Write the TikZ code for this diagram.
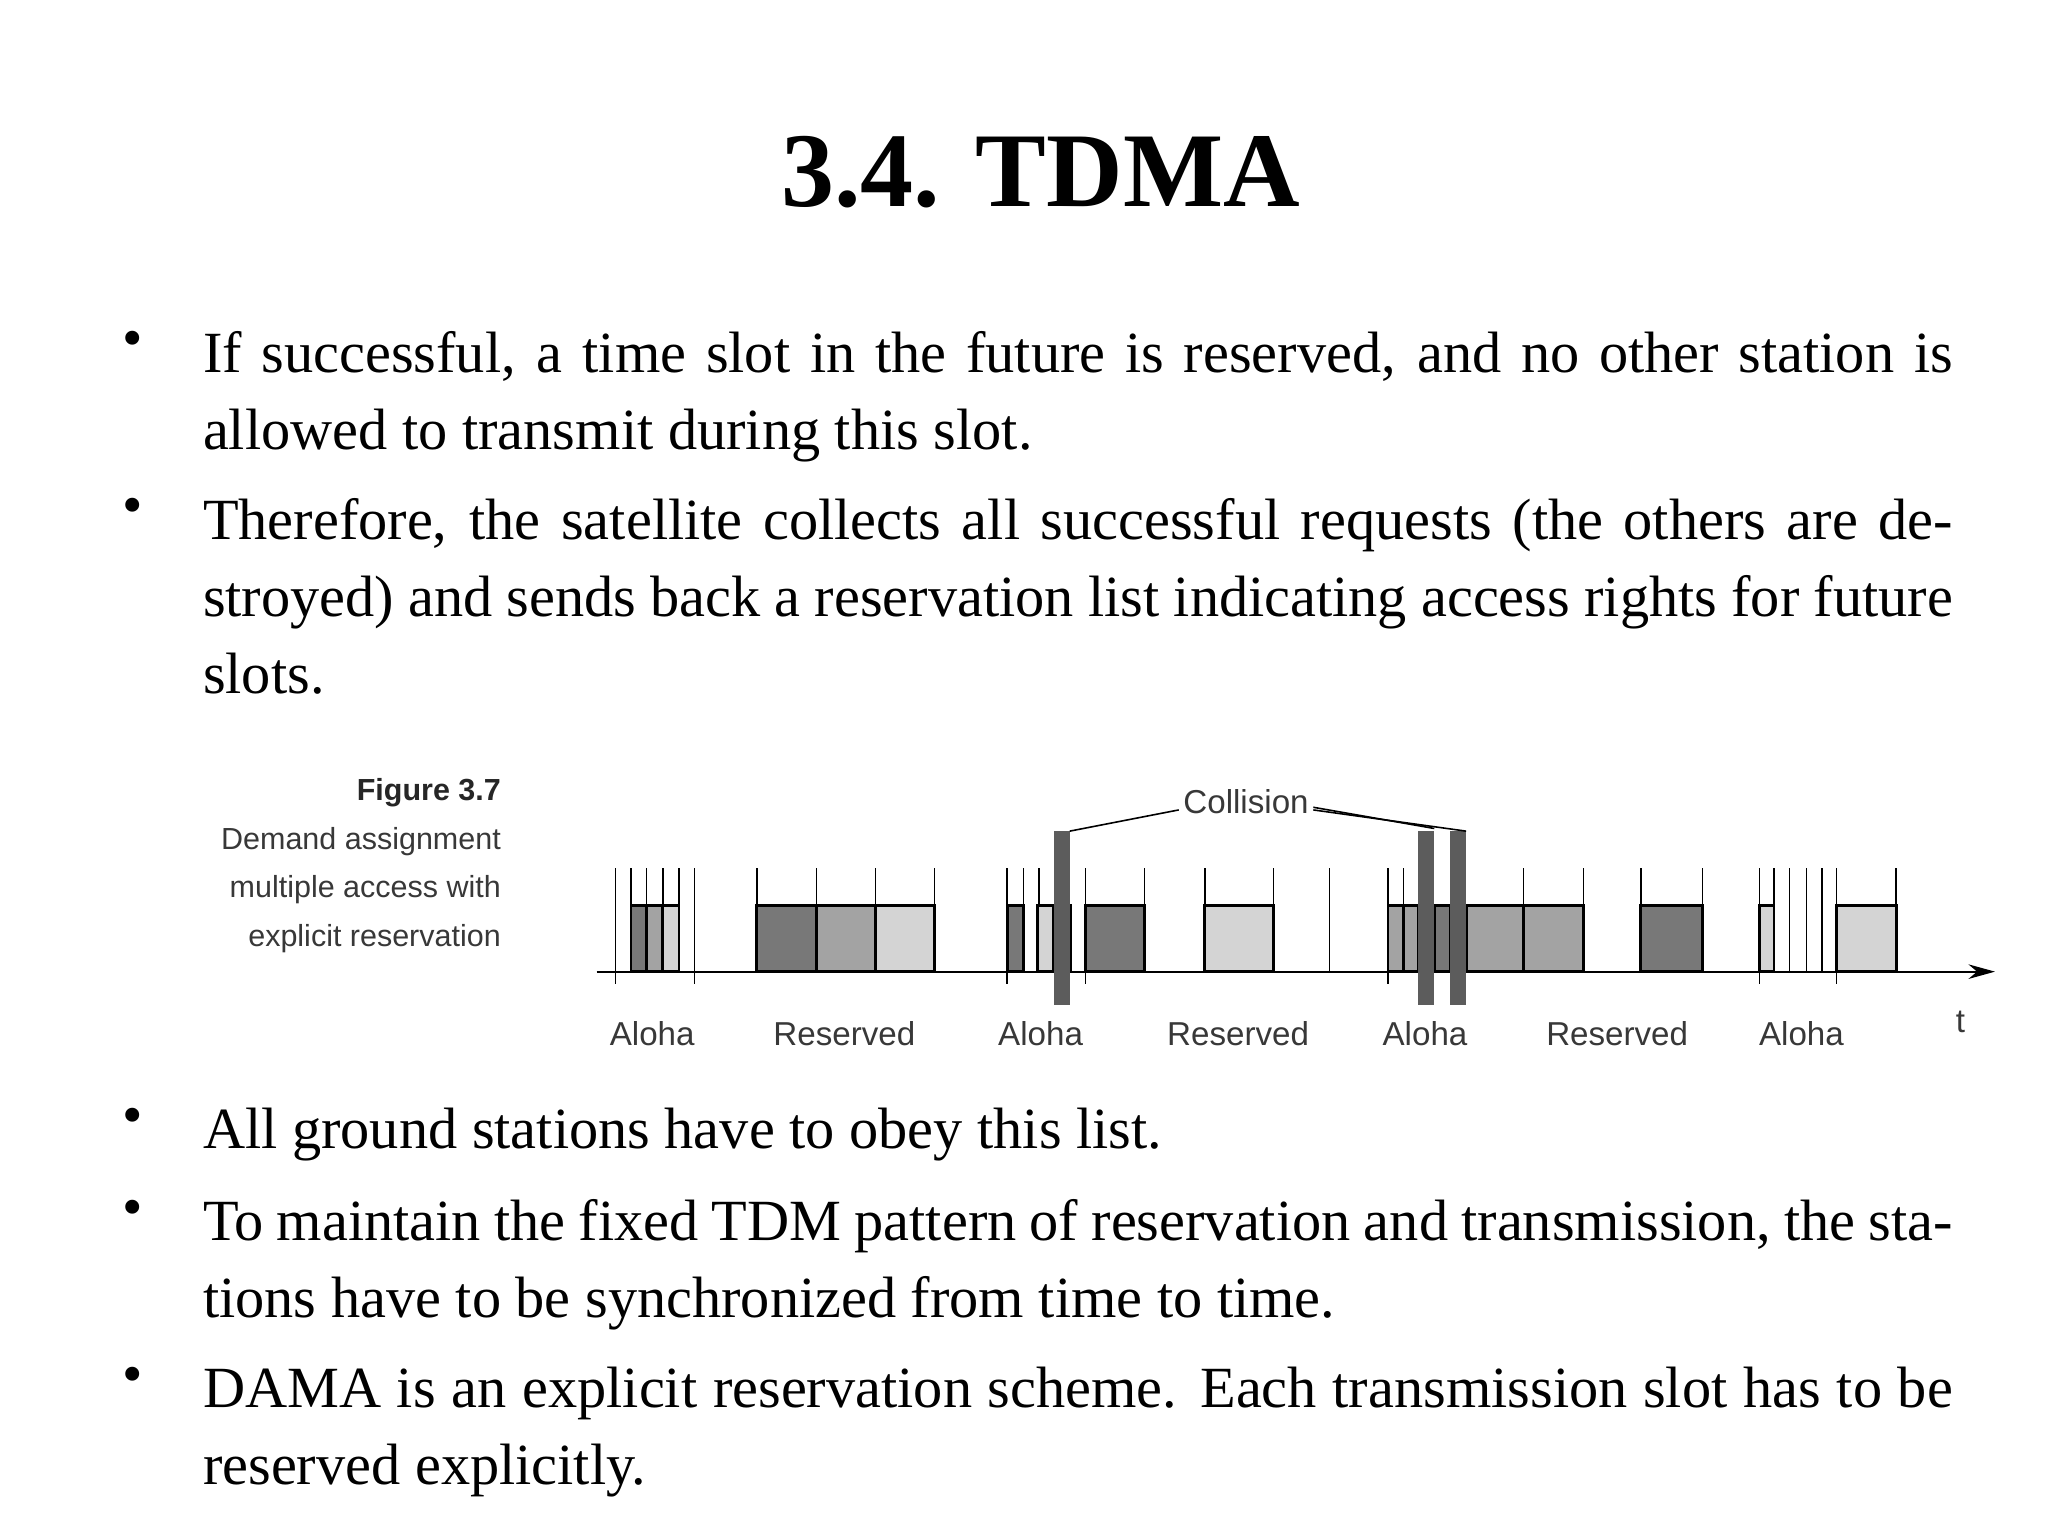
\documentclass[tikz,border=0pt]{standalone}
\usepackage{fontspec}
\setmainfont{Liberation Serif}
\setsansfont{Liberation Sans}
\usetikzlibrary{arrows.meta}
\definecolor{gd}{gray}{0.47}
\definecolor{gm}{gray}{0.64}
\definecolor{gl}{gray}{0.83}
\definecolor{gbar}{gray}{0.36}
\definecolor{lab}{gray}{0.22}
\tikzset{
 body/.style={anchor=north west,text width=1320pt,align=justify,inner sep=0pt,font=\fontsize{44}{58}\selectfont},
 bul/.style={anchor=north,inner sep=0pt,font=\fontsize{44}{58}\selectfont},
 tick/.style={line width=1pt},
 slotbox/.style={draw=black,line width=2.2pt},
 lbl/.style={font=\sffamily\fontsize{25}{28}\selectfont,text=lab},
 figcap/.style={anchor=east,font=\sffamily\fontsize{23}{26}\selectfont,text=lab,inner sep=0pt},
}
\newcommand{\tk}[1]{\draw[tick] (#1,655) -- (#1,733);}
\newcommand{\tkl}[1]{\draw[tick] (#1,655) -- (#1,742);}
\newcommand{\slotb}[3]{\draw[slotbox,fill=#3] (#1,683) rectangle (#2,733);}
\begin{document}
\begin{tikzpicture}[x=1pt,y=-1pt]
\useasboundingbox[fill=white] (0,0) rectangle (1545,1159);
\node[font=\bfseries\fontsize{80}{90}\selectfont] (title) at (785,130) {3.4. TDMA};
% bullets
\node[bul] (b1) at (100,250) {•};
\node[body] (t1) at (153,250) {If successful, a time slot in the future is reserved, and no other station is allowed to transmit during this slot.};
\node[bul] (b2) at (100,376) {•};
\node[body] (t2) at (153,376) {Therefore, the satellite collects all successful requests (the others are destroyed) and sends back a reservation list indicating access rights for future slots.};
\node[bul] (b3) at (100,836) {•};
\node[body] (t3) at (153,836) {All ground stations have to obey this list.};
\node[bul] (b4) at (100,905) {•};
\node[body] (t4) at (153,905) {To maintain the fixed TDM pattern of reservation and transmission, the stations have to be synchronized from time to time.};
\node[bul] (b5) at (100,1031) {•};
\node[body] (t5) at (153,1031) {DAMA is an explicit reservation scheme. Each transmission slot has to be reserved explicitly.};
% caption
\node[figcap,font=\sffamily\bfseries\fontsize{23}{26}\selectfont,text=black!85] (c0) at (378,598) {Figure 3.7};
\node[figcap] (c1) at (378,635) {Demand assignment};
\node[figcap] (c2) at (378,671) {multiple access with};
\node[figcap] (c3) at (378,708) {explicit reservation};
% axis
\draw[line width=1.3pt,-{Stealth[length=20pt,width=11pt]}] (450,733) -- (1505,733);
% ticks
\tkl{464.3}\tk{476}\tk{487.7}\tk{500.1}\tk{512.2}\tkl{523.9}
\tk{571}\tk{616}\tk{660.4}\tk{705}
\tkl{759.7}\tk{772.1}\tk{783.8}\tkl{818.9}\tk{863.6}
\tk{909}\tk{960.7}
\tk{1003}
\tkl{1047.1}\tk{1058.7}\tk{1149.3}\tk{1194.8}
\tk{1237.9}\tk{1284.1}
\tkl{1327.1}\tk{1338.3}\tk{1349.9}\tk{1362.8}\tk{1374.4}\tkl{1385.6}\tk{1430.4}
% boxes
\slotb{476}{487.7}{gd}\slotb{487.7}{500.1}{gm}\slotb{500.1}{512.2}{gl}
\slotb{571}{616}{gd}\slotb{616}{660.4}{gm}\slotb{660.4}{705}{gl}
\slotb{759.7}{772.1}{gd}\slotb{782.8}{795}{gl}\slotb{795}{807.6}{gd}\slotb{818.9}{863.6}{gd}
\slotb{909}{960.7}{gl}
\slotb{1047.1}{1058.7}{gm}\slotb{1058.7}{1070}{gm}\slotb{1070}{1082}{gl}\slotb{1082}{1094}{gd}\slotb{1094}{1106.3}{gl}
\slotb{1106.3}{1149.3}{gm}\slotb{1149.3}{1194.8}{gm}
\slotb{1237.9}{1284.1}{gd}
\slotb{1327.1}{1338.3}{gl}\slotb{1385.6}{1430.4}{gl}
% collision bars
\fill[gbar] (795,627) rectangle (807,758);
\fill[gbar] (1070,627) rectangle (1082,758);
\fill[gbar] (1094,627) rectangle (1106,758);
\node[lbl] (coll) at (940,605) {Collision};
\draw[line width=1.2pt] (coll.west) ++(0,6) -- (807,627);
\draw[line width=1.2pt] (coll.east) ++(0,4) -- (1082,625);
\draw[line width=1.2pt] (coll.east) ++(0,6) -- (1106,627);
% labels
\node[lbl] (l1) at (492,780) {Aloha};
\node[lbl] (l2) at (637,780) {Reserved};
\node[lbl] (l3) at (785,780) {Aloha};
\node[lbl] (l4) at (934,780) {Reserved};
\node[lbl] (l5) at (1075,780) {Aloha};
\node[lbl] (l6) at (1220,780) {Reserved};
\node[lbl] (l7) at (1359,780) {Aloha};
\node[lbl] (lt) at (1479,771) {t};
\end{tikzpicture}
\end{document}
